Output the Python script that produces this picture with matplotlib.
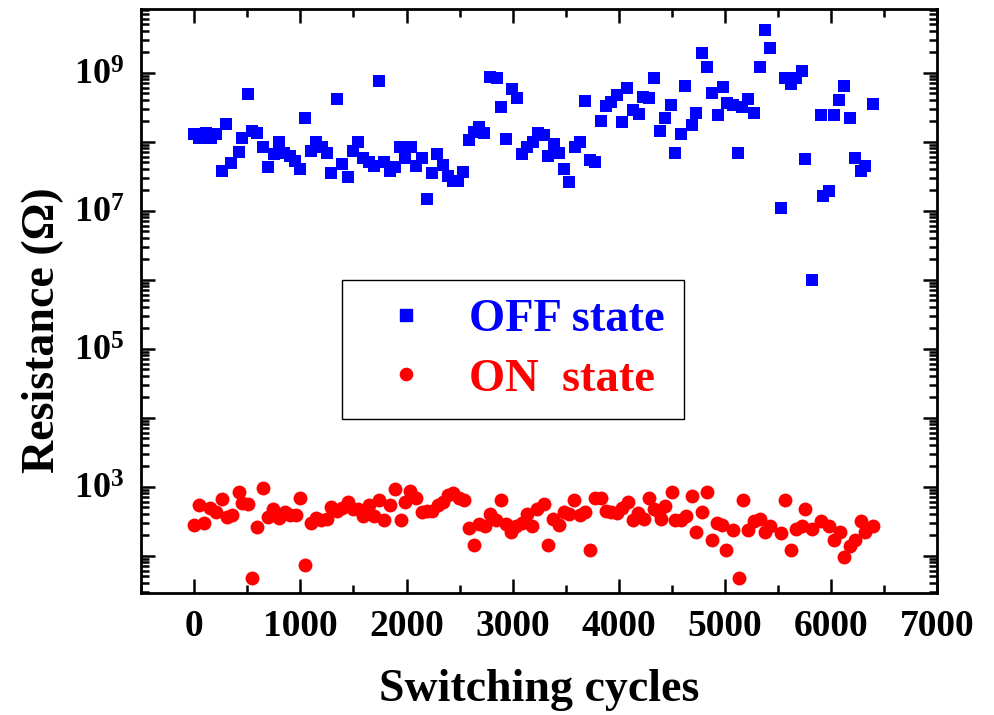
import math
import matplotlib
matplotlib.use('Agg')
import matplotlib.pyplot as plt
from matplotlib.ticker import LogLocator, FuncFormatter, MultipleLocator, NullFormatter
from matplotlib.lines import Line2D

plt.rcParams['font.family'] = ['Liberation Serif', 'DejaVu Serif']
plt.rcParams['font.weight'] = 'bold'
plt.rcParams['mathtext.fontset'] = 'custom'
plt.rcParams['mathtext.rm'] = 'Liberation Serif:bold'
plt.rcParams['mathtext.bf'] = 'Liberation Serif:bold'

# OFF state (squares)
off_x = [0, 47, 110, 157, 204, 266, 298, 351, 423, 454, 507, 548, 595, 651, 699, 751, 798, 845, 901, 946,
         995, 1042, 1096, 1143, 1200, 1246, 1290, 1346, 1393, 1446, 1493, 1540, 1590, 1643, 1690, 1744, 1791,
         1847, 1894, 1941, 1988, 2041, 2091, 2144, 2191, 2238, 2291, 2342, 2394, 2441, 2488, 2535, 2592, 2638,
         2685, 2732, 2786, 2855, 2886, 2936, 2990, 3037, 3089, 3136, 3187, 3234, 3296, 3333, 3387, 3437, 3484,
         3531, 3584, 3631, 3685, 3731, 3778, 3835, 3882, 3929, 3981, 4028, 4079, 4131, 4185, 4232, 4288, 4329,
         4392, 4436, 4492, 4530, 4586, 4626, 4686, 4727, 4783, 4830, 4877, 4930, 4977, 5014, 5071, 5124, 5164,
         5218, 5274, 5328, 5377, 5424, 5525, 5565, 5619, 5666, 5722, 5753, 5822, 5900, 5925, 5978, 6025, 6072,
         6119, 6176, 6220, 6282, 6323, 6395]
off_r = [1.3e8, 1.15e8, 1.35e8, 1.15e8, 1.3e8, 3.7e7, 1.8e8, 4.9e7, 7.2e7, 1.15e8, 4.9e8, 1.45e8, 1.35e8,
         8.3e7, 4.3e7, 6.6e7, 9.8e7, 6.9e7, 6.3e7, 5.2e7, 4.0e7, 2.2e8, 7.4e7, 1.0e8, 8.3e7, 6.8e7, 3.5e7,
         4.1e8, 4.8e7, 3.1e7, 7.4e7, 9.8e7, 5.9e7, 5.0e7, 4.5e7, 7.6e8, 5.1e7, 3.7e7, 4.3e7, 8.3e7, 5.9e7,
         8.3e7, 4.4e7, 5.9e7, 1.5e7, 3.5e7, 6.6e7, 4.6e7, 3.2e7, 2.7e7, 2.7e7, 3.6e7, 1.05e8, 1.4e8, 1.65e8,
         1.35e8, 8.7e8, 8.5e8, 3.2e8, 1.1e8, 5.9e8, 4.3e8, 6.6e7, 8.3e7, 1.0e8, 1.35e8, 1.25e8, 6.3e7, 9.3e7,
         6.9e7, 4.0e7, 2.6e7, 8.5e7, 9.8e7, 3.9e8, 5.4e7, 5.0e7, 2.0e8, 3.3e8, 3.7e8, 4.7e8, 1.9e8, 6.0e8,
         2.9e8, 2.5e8, 4.4e8, 4.3e8, 8.5e8, 1.45e8, 2.2e8, 3.4e8, 6.9e7, 1.3e8, 6.5e8, 1.75e8, 2.6e8, 1.95e9,
         1.2e9, 5.1e8, 2.45e8, 6.3e8, 3.6e8, 3.4e8, 6.8e7, 3.2e8, 4.1e8, 2.6e8, 1.2e9, 4.1e9, 2.3e9, 1.1e7,
         8.3e8, 6.9e8, 8.3e8, 1.07e9, 5.6e7, 1.0e6, 2.4e8, 1.65e7, 1.95e7, 2.4e8, 4.0e8, 6.5e8, 2.2e8, 5.8e7,
         3.7e7, 4.4e7, 3.5e8]

# ON state (circles)
on_x = [0, 47, 94, 150, 204, 266, 307, 360, 423, 454, 510, 548, 595, 651, 695, 745, 798, 852, 901, 955,
        995, 1040, 1096, 1143, 1196, 1252, 1290, 1346, 1393, 1446, 1493, 1540, 1590, 1643, 1690, 1744, 1791,
        1841, 1888, 1947, 1982, 2035, 2091, 2144, 2197, 2244, 2295, 2342, 2394, 2441, 2498, 2545, 2589, 2636,
        2685, 2739, 2786, 2842, 2886, 2936, 2980, 3027, 3084, 3131, 3183, 3230, 3293, 3333, 3380, 3434, 3481,
        3531, 3578, 3631, 3685, 3731, 3778, 3835, 3882, 3929, 3981, 4032, 4085, 4131, 4178, 4241, 4288, 4329,
        4382, 4398, 4439, 4498, 4530, 4586, 4633, 4686, 4727, 4783, 4830, 4877, 4920, 4971, 5009, 5077, 5127,
        5174, 5221, 5274, 5331, 5377, 5424, 5525, 5565, 5619, 5666, 5722, 5753, 5822, 5900, 5978, 6025, 6079,
        6119, 6173, 6220, 6285, 6317, 6395]
on_r = [280, 540, 300, 490, 430, 660, 360, 390, 830, 575, 560, 48, 260, 955, 360, 480, 355, 430, 390, 390,
        675, 72, 295, 355, 330, 340, 500, 445, 490, 590, 480, 480, 370, 540, 380, 645, 330, 540, 935, 330,
        590, 870, 690, 430, 445, 445, 550, 590, 760, 810, 690, 645, 255, 145, 290, 270, 400, 325, 630, 290,
        220, 270, 300, 400, 270, 480, 560, 145, 340, 280, 430, 400, 630, 390, 430, 120, 690, 690, 445, 435,
        415, 490, 600, 325, 415, 340, 690, 480, 430, 340, 525, 850, 330, 330, 380, 725, 220, 430, 850, 170,
        300, 280, 120, 235, 48, 630, 235, 315, 340, 220, 270, 215, 645, 120, 245, 270, 480, 240, 315, 270,
        170, 220, 95, 140, 170, 315, 220, 270]

fig = plt.figure(figsize=(9.94, 7.15), dpi=100)
ax = fig.add_axes([0.142, 0.171, 0.801, 0.816])

ax.plot(off_x, off_r, 's', color='#0000FF', markersize=9.3, markeredgewidth=0)
ax.plot(on_x, on_r, 'o', color='#FF0000', markersize=10, markeredgewidth=0)

ax.set_yscale('log')
ax.set_xlim(-500, 7000)
ax.set_ylim(29, 8.3e9)

ax.xaxis.set_major_locator(MultipleLocator(1000))
ax.xaxis.set_minor_locator(MultipleLocator(500))
ax.yaxis.set_major_locator(LogLocator(base=10, numticks=20))
ax.yaxis.set_minor_locator(LogLocator(base=10, subs=range(2, 10), numticks=20))
ax.yaxis.set_minor_formatter(NullFormatter())


def ylab(v, pos):
    e = int(round(math.log10(v)))
    return r'$\mathbf{10^{%d}}$' % e if e % 2 == 1 else ''


ax.yaxis.set_major_formatter(FuncFormatter(ylab))

ax.tick_params(which='both', direction='in', top=True, right=True, width=1.8)
ax.tick_params(which='major', length=10, labelsize=27)
ax.tick_params(axis='x', which='major', pad=12)
ax.tick_params(axis='y', which='major', pad=12, labelsize=26)
ax.tick_params(which='minor', length=6)
for sp in ax.spines.values():
    sp.set_linewidth(2)

ax.set_xlabel('Switching cycles', fontsize=33, fontweight='bold', labelpad=18)
ax.set_ylabel('Resistance (\u03a9)', fontsize=33, fontweight='bold')
ax.yaxis.set_label_coords(-0.097, 0.45)

handles = [Line2D([], [], ls='none', marker='s', color='#0000FF', markersize=8.5),
           Line2D([], [], ls='none', marker='o', color='#FF0000', markersize=8.8)]
leg = ax.legend(handles, ['OFF state', 'ON  state'], loc='upper left', bbox_to_anchor=(0.252, 0.536),
                fontsize=33.5, frameon=True, fancybox=False, edgecolor='black', framealpha=1,
                handletextpad=0.38, borderpad=0.4, labelspacing=0.36, handlelength=1.96,
                borderaxespad=0)
leg.get_frame().set_linewidth(1.0)
for t, c in zip(leg.get_texts(), ['#0000FF', '#FF0000']):
    t.set_color(c)

fig.savefig('out.png', dpi=100)
